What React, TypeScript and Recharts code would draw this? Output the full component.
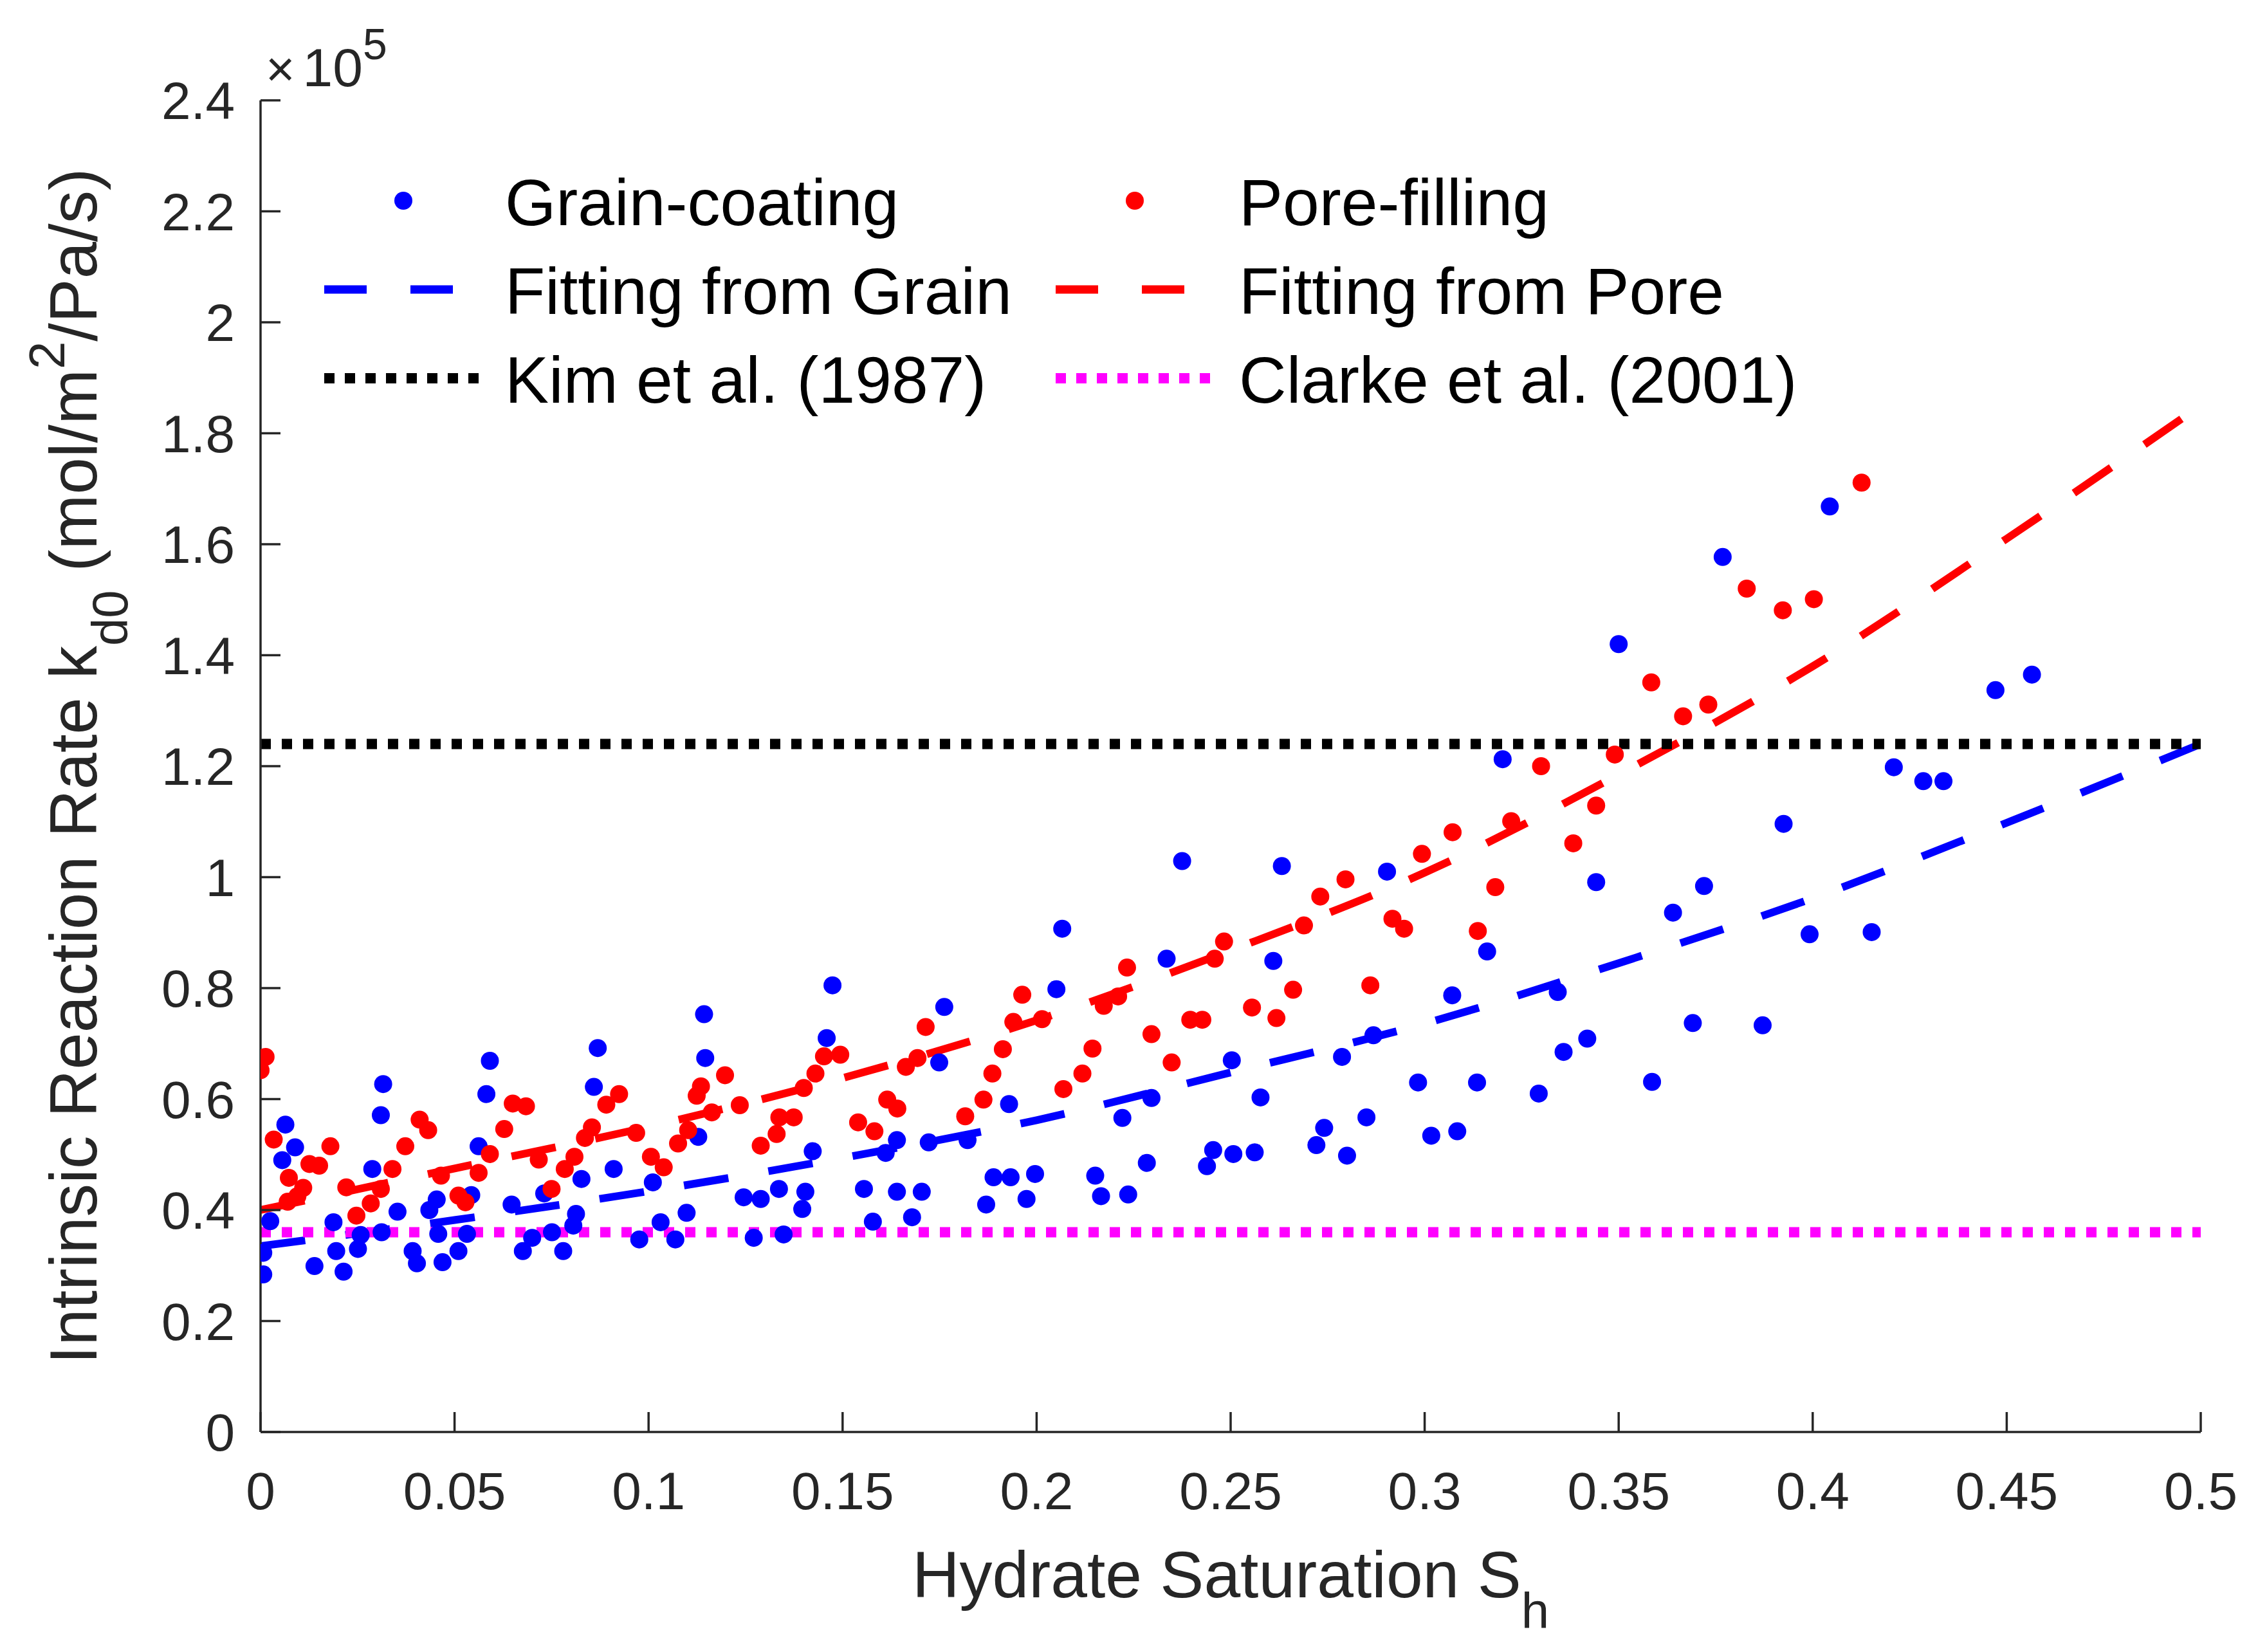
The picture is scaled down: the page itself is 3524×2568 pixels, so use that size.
import React from "react";
import {
  ComposedChart,
  Scatter,
  Line,
  XAxis,
  YAxis,
  ReferenceLine,
  Legend,
} from "recharts";

const FONT = '"Liberation Sans", Arial, Helvetica, sans-serif';
const AXIS = "#262626";
const BLUE = "#0000ff";
const RED = "#ff0000";
const MAGENTA = "#ff00ff";

// Grain-coating samples (hydrate saturation, k_d0 in 1e5 mol/m2/Pa/s)
const grainSh = [
  0.0591, 0.0869, 0.0316, 0.031, 0.0064, 0.0089, 0.0056, 0.0582, 0.0562, 0.0859,
  0.0288, 0.0353, 0.0827, 0.091, 0.1143, 0.1146, 0.1128, 0.1011, 0.1098, 0.1031,
  0.0813, 0.0806, 0.0007, 0.0007, 0.0139, 0.0195, 0.0214, 0.0251, 0.0258, 0.0188,
  0.0025, 0.0312, 0.0392, 0.0403, 0.0469, 0.051, 0.0458, 0.0532, 0.0454, 0.0435,
  0.0543, 0.0676, 0.07, 0.078, 0.0751, 0.0976, 0.1069, 0.0647, 0.0731,
  0.1474, 0.1459, 0.1762, 0.1749, 0.2066, 0.2051, 0.1929, 0.2221, 0.2296, 0.2284,
  0.2151, 0.2166, 0.2236, 0.1996, 0.1974, 0.1933, 0.1889, 0.187, 0.1822, 0.1722,
  0.164, 0.1611, 0.1555, 0.164, 0.1704, 0.1578, 0.1679, 0.1423, 0.1404, 0.1396,
  0.1336, 0.1289, 0.1245, 0.1271, 0.1348,
  0.3201, 0.2375, 0.2632, 0.2903, 0.3442, 0.2335, 0.261, 0.3161, 0.3071, 0.3343,
  0.2503, 0.2787, 0.2868, 0.3419, 0.3358, 0.2577, 0.2983, 0.3135, 0.3294, 0.2741,
  0.2721, 0.28, 0.285, 0.3017, 0.3084, 0.2455, 0.2439, 0.2507, 0.2562,
  0.4044, 0.3768, 0.35, 0.4471, 0.4565, 0.4209, 0.4285, 0.4337, 0.3925, 0.372,
  0.364, 0.3992, 0.4152, 0.3691, 0.3871, 0.3586,
];
const grainK = [
  0.669, 0.692, 0.627, 0.571, 0.554, 0.513, 0.49, 0.609, 0.515, 0.622,
  0.474, 0.397, 0.456, 0.474, 0.753, 0.674, 0.532, 0.45, 0.395, 0.378,
  0.393, 0.372, 0.323, 0.284, 0.299, 0.326, 0.289, 0.33, 0.355, 0.378,
  0.38, 0.36, 0.326, 0.304, 0.306, 0.326, 0.357, 0.357, 0.419, 0.4,
  0.427, 0.326, 0.35, 0.326, 0.36, 0.347, 0.347, 0.41, 0.43,
  0.805, 0.71, 0.766, 0.666, 0.907, 0.798, 0.591, 0.566, 0.602, 0.485,
  0.462, 0.425, 0.428, 0.465, 0.42, 0.459, 0.459, 0.41, 0.526, 0.522,
  0.526, 0.503, 0.438, 0.433, 0.433, 0.379, 0.387, 0.506, 0.433, 0.402,
  0.438, 0.42, 0.423, 0.35, 0.356,
  1.2125, 1.029, 1.02, 1.01, 0.991, 0.853, 0.849, 0.866, 0.787, 0.793,
  0.67, 0.676, 0.715, 0.709, 0.685, 0.603, 0.63, 0.63, 0.61, 0.548,
  0.517, 0.498, 0.567, 0.534, 0.542, 0.508, 0.479, 0.501, 0.504,
  1.668, 1.577, 1.42, 1.337, 1.365, 1.198, 1.173, 1.173, 1.096, 0.984,
  0.936, 0.897, 0.901, 0.737, 0.733, 0.631,
];

// Pore-filling samples
const poreSh = [
  0.0013, 0.0, 0.0034, 0.018, 0.0126, 0.0151, 0.0073, 0.0095, 0.007, 0.011,
  0.0221, 0.0247, 0.0284, 0.031, 0.034, 0.0373, 0.041, 0.0432, 0.0465, 0.051,
  0.0528, 0.0562, 0.0591, 0.0628, 0.065, 0.0684, 0.0717, 0.075, 0.0784, 0.0809,
  0.0836, 0.0854, 0.0891, 0.0924, 0.0968, 0.1006, 0.1039, 0.1076, 0.1102, 0.1124,
  0.1135,
  0.2233, 0.1963, 0.194, 0.2014, 0.2173, 0.221, 0.2296, 0.2144, 0.2118, 0.2069,
  0.1913, 0.1886, 0.1863, 0.1816, 0.1714, 0.1663, 0.1693, 0.1615, 0.1641, 0.154,
  0.1582, 0.1452, 0.1494, 0.143, 0.14, 0.1337, 0.1374, 0.133, 0.1289, 0.1235,
  0.1197, 0.1163,
  0.349, 0.33, 0.3442, 0.3223, 0.3072, 0.3383, 0.2993, 0.3182, 0.3137, 0.2796,
  0.2731, 0.2689, 0.2917, 0.2947, 0.2483, 0.2459, 0.286, 0.2661, 0.2555, 0.2618,
  0.2396, 0.2427, 0.2348,
  0.4126, 0.383, 0.3923, 0.4003, 0.3584, 0.3666, 0.3731,
];
const poreK = [
  0.676, 0.652, 0.527, 0.515, 0.483, 0.48, 0.458, 0.425, 0.415, 0.44,
  0.441, 0.39, 0.412, 0.438, 0.474, 0.515, 0.563, 0.544, 0.462, 0.426,
  0.414, 0.467, 0.501, 0.546, 0.592, 0.587, 0.491, 0.438, 0.474, 0.496,
  0.53, 0.549, 0.59, 0.609, 0.539, 0.496, 0.477, 0.52, 0.544, 0.606,
  0.623,
  0.837, 0.788, 0.739, 0.744, 0.768, 0.785, 0.717, 0.691, 0.646, 0.618,
  0.69, 0.646, 0.599, 0.569, 0.73, 0.658, 0.674, 0.599, 0.583, 0.558,
  0.542, 0.677, 0.68, 0.646, 0.62, 0.567, 0.567, 0.537, 0.516, 0.589,
  0.643, 0.576,
  1.221, 1.2, 1.129, 1.101, 1.081, 1.061, 1.042, 0.982, 0.903, 0.996,
  0.965, 0.913, 0.925, 0.907, 0.884, 0.853, 0.805, 0.797, 0.765, 0.746,
  0.743, 0.743, 0.666,
  1.711, 1.52, 1.481, 1.501, 1.351, 1.29, 1.311,
];

// fitted curves
const fitSh = [0, 0.05, 0.1, 0.15, 0.2, 0.25, 0.3, 0.35, 0.4, 0.45, 0.5];
const fitGrainK = [0.335, 0.382, 0.434, 0.494, 0.562, 0.648, 0.736, 0.845, 0.962, 1.098, 1.24];
const fitPoreK = [0.4, 0.475, 0.55, 0.638, 0.742, 0.868, 1.008, 1.185, 1.38, 1.61, 1.85];

const kimK = 1.24;
const clarkeK = 0.36;

const xTicks = [0, 0.05, 0.1, 0.15, 0.2, 0.25, 0.3, 0.35, 0.4, 0.45, 0.5];
const yTicks = [0, 0.2, 0.4, 0.6, 0.8, 1, 1.2, 1.4, 1.6, 1.8, 2, 2.2, 2.4];

const grainData = grainSh.map((x, i) => ({ x, y: grainK[i] }));
const poreData = poreSh.map((x, i) => ({ x, y: poreK[i] }));
const fitGrainData = fitSh.map((x, i) => ({ x, y: fitGrainK[i] }));
const fitPoreData = fitSh.map((x, i) => ({ x, y: fitPoreK[i] }));

const dot = (fill: string) => (props: any) => (
  <circle cx={props.cx} cy={props.cy} r={14} fill={fill} />
);

function YTitle() {
  return (
    <g fontFamily={FONT} fill={AXIS}>
      <text transform="translate(150,1191) rotate(-90)" textAnchor="middle" fontSize={103}>
        Intrinsic Reaction Rate k
        <tspan dy={48} fontSize={78}>d0</tspan>
        <tspan dy={-48}> (mol/m</tspan>
        <tspan dy={-50} fontSize={78}>2</tspan>
        <tspan dy={50}>/Pa/s)</tspan>
      </text>
      <text x={413} y={134} fontSize={84}>
        <tspan fontSize={78}>×</tspan>
        <tspan dx={12}>10</tspan>
        <tspan dy={-42} fontSize={68}>5</tspan>
      </text>
    </g>
  );
}

function XTitle() {
  return (
    <text x={1913} y={2483} textAnchor="middle" fontSize={102} fontFamily={FONT} fill={AXIS}>
      Hydrate Saturation S
      <tspan dy={48} fontSize={78}>h</tspan>
    </text>
  );
}

const legendRows = [
  { label: "Grain-coating", color: BLUE, kind: "dot", col: 0, row: 0 },
  { label: "Pore-filling", color: RED, kind: "dot", col: 1, row: 0 },
  { label: "Fitting from Grain", color: BLUE, kind: "dash", col: 0, row: 1 },
  { label: "Fitting from Pore", color: RED, kind: "dash", col: 1, row: 1 },
  { label: "Kim et al. (1987)", color: "#000000", kind: "dotline", col: 0, row: 2 },
  { label: "Clarke et al. (2001)", color: MAGENTA, kind: "dotline", col: 1, row: 2 },
];

function LegendBox() {
  const sampleX = [504, 1641];
  const textX = [785, 1926];
  const baseY = [350, 488, 626];
  return (
    <svg width={3524} height={700} style={{ display: "block" }}>
      {legendRows.map((r) => {
        const x0 = sampleX[r.col];
        const cy = baseY[r.row] - 38;
        let sample;
        if (r.kind === "dot") {
          sample = <circle cx={x0 + 123} cy={cy} r={14} fill={r.color} />;
        } else if (r.kind === "dash") {
          sample = (
            <line x1={x0} x2={x0 + 245} y1={cy} y2={cy} stroke={r.color}
              strokeWidth={13} strokeDasharray="66 68" />
          );
        } else {
          sample = (
            <line x1={x0} x2={x0 + 245} y1={cy} y2={cy} stroke={r.color}
              strokeWidth={16} strokeDasharray="16 16" />
          );
        }
        return (
          <g key={r.label}>
            {sample}
            <text x={textX[r.col]} y={baseY[r.row]} fontSize={102} fontFamily={FONT} fill="#000">
              {r.label}
            </text>
          </g>
        );
      })}
    </svg>
  );
}

export default function App() {
  return (
    <div style={{ position: "absolute", left: 0, top: 0, width: 3524, height: 2568, background: "#fff" }}>
      <ComposedChart
        width={3524}
        height={2568}
        margin={{ top: 156, right: 103, bottom: 0, left: 0 }}
      >
        <XAxis
          type="number"
          dataKey="x"
          domain={[0, 0.5]}
          ticks={xTicks}
          interval={0}
          allowDataOverflow
          height={342}
          tickSize={-31}
          tickMargin={93}
          tickFormatter={(v: number) => String(Number(v.toFixed(2)))}
          stroke={AXIS}
          strokeWidth={3.5}
          tick={{ fill: AXIS, fontSize: 82, fontFamily: FONT }}
          label={{ content: XTitle }}
        />
        <YAxis
          type="number"
          dataKey="y"
          domain={[0, 2.4]}
          ticks={yTicks}
          interval={0}
          allowDataOverflow
          width={405}
          tickSize={-31}
          tickMargin={71}
          tickFormatter={(v: number) => String(Number(v.toFixed(1)))}
          stroke={AXIS}
          strokeWidth={3.5}
          tick={{ fill: AXIS, fontSize: 82, fontFamily: FONT }}
          label={{ content: YTitle }}
        />
        <Scatter data={grainData} dataKey="y" fill={BLUE} shape={dot(BLUE)} isAnimationActive={false} />
        <Scatter data={poreData} dataKey="y" fill={RED} shape={dot(RED)} isAnimationActive={false} />
        <Line
          data={fitGrainData}
          dataKey="y"
          type="monotone"
          stroke={BLUE}
          strokeWidth={12}
          strokeDasharray="70 63"
          dot={false}
          activeDot={false}
          isAnimationActive={false}
        />
        <Line
          data={fitPoreData}
          dataKey="y"
          type="monotone"
          stroke={RED}
          strokeWidth={12}
          strokeDasharray="70 63"
          dot={false}
          activeDot={false}
          isAnimationActive={false}
        />
        <ReferenceLine y={kimK} stroke="#000000" strokeWidth={16} strokeDasharray="16 17" />
        <ReferenceLine y={clarkeK} stroke={MAGENTA} strokeWidth={16} strokeDasharray="16 17" />
        <Legend
          layout="vertical"
          verticalAlign="middle"
          align="center"
          content={() => <LegendBox />}
          wrapperStyle={{ left: 0, top: 0, width: 3524, height: 700 }}
        />
      </ComposedChart>
    </div>
  );
}
